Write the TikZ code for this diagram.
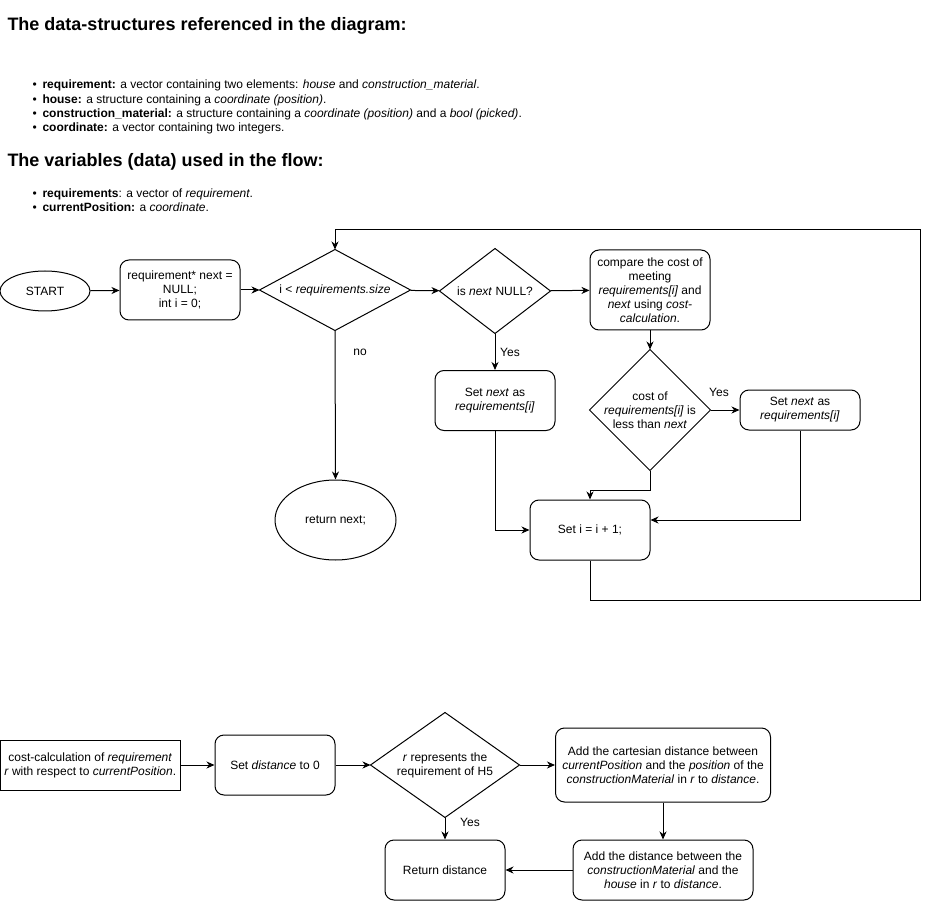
\documentclass[tikz,border=0pt]{standalone}
\usepackage{fontspec}
\setmainfont{Liberation Sans}
\usetikzlibrary{shapes.geometric,arrows.meta}

\begin{document}
\begin{tikzpicture}[x=1pt,y=-1pt,
  every node/.style={font=\fontsize{12}{14}\selectfont, inner sep=0pt},
  line width=1pt, line join=miter,
  heading/.style={anchor=base west, font=\fontsize{18}{21}\bfseries\selectfont},
  item/.style={anchor=base west, font=\fontsize{12}{14}\selectfont},
  proc/.style={draw, rounded corners=9pt, align=center, minimum width=#1},
  proc/.default=120pt,
  plainbox/.style={draw, align=center},
  term/.style={draw, ellipse, align=center},
  decision/.style={align=center},
  lbl/.style={},
  arr/.style={-{Stealth[length=8pt,width=7pt,inset=2.5pt]}}
]
\useasboundingbox (0,0) rectangle (929,901);

% ---------- legend ----------
\newcommand{\bul}{\makebox[10pt][l]{\textbullet}}
\node[heading] (h1) at (7,31) {The data-structures referenced in the diagram:};
\node[item] (i1) at (32,89)    {\bul\textbf{requirement:} a vector containing two elements: \textit{house} and \textit{construction\_material}.};
\node[item] (i2) at (32,103.3) {\bul\textbf{house:} a structure containing a \textit{coordinate (position)}.};
\node[item] (i3) at (32,117.6) {\bul\textbf{construction\_material:} a structure containing a \textit{coordinate (position)} and a \textit{bool (picked)}.};
\node[item] (i4) at (32,131.9) {\bul\textbf{coordinate:} a vector containing two integers.};
\node[heading] (h2) at (7,167) {The variables (data) used in the flow:};
\node[item] (v1) at (32,197.3) {\bul\textbf{requirements}: a vector of \textit{requirement}.};
\node[item] (v2) at (32,211.8) {\bul\textbf{currentPosition:} a \textit{coordinate}.};

% ---------- main flow ----------
\node[term, minimum width=90pt, minimum height=40pt] (start) at (45,291) {START};
\node[proc, minimum height=60pt] (init) at (180,290) {requirement* next =\\NULL;\\int i = 0;};
\node[decision, minimum width=150pt, minimum height=80pt] (cond) at (335,290) {i < \textit{requirements.size}};
\node[decision, minimum width=110pt, minimum height=84pt] (isnull) at (495,291) {is \textit{next} NULL?};
\node[proc, minimum height=80pt] (cmp) at (650,290) {compare the cost of\\meeting\\\textit{requirements[i]} and\\\textit{next} using \textit{cost-}\\\textit{calculation}.};
\node[decision, minimum width=120pt, minimum height=120pt] (less) at (650,410) {cost of\\\textit{requirements[i]} is\\less than \textit{next}};
\node[proc, minimum height=40pt] (setr) at (800,410) {Set \textit{next} as\\\textit{requirements[i]}};
\node[proc, minimum height=60pt] (setl) at (495,400.5) {Set \textit{next} as\\\textit{requirements[i]}};
\node[term, minimum width=121pt, minimum height=80pt] (ret) at (335.5,520) {return next;};
\node[proc, minimum height=60pt] (inc) at (590,530) {Set i = i + 1;};

\foreach \d in {cond,isnull,less}
  \draw (\d.north) -- (\d.east) -- (\d.south) -- (\d.west) -- cycle;

\draw[arr] (start) -- (init);
\draw[arr] (init) -- (cond);
\draw[arr] (cond) -- (isnull);
\draw[arr] (isnull) -- (cmp);
\draw[arr] (cmp) -- (less);
\draw[arr] (cond.south) -- (ret.north);
\draw[arr] (isnull.south) -- (setl.north);
\draw[arr] (less.east) -- (setr.west);
\draw[arr] (setl.south) |- (inc.west);
\draw[arr] (less.south) -- (650,490) -| (inc.north);
\draw[arr] (setr.south) |- ([yshift=10pt]inc.east);
\draw[arr] (inc.south) -- (590,600) -- (920,600) -- (920,230) -- (335,230) -- (cond.north);

\node[lbl] (lno) at (360,352) {no};
\node[lbl] (lyes1) at (510,352) {Yes};
\node[lbl] (lyes2) at (719,392) {Yes};

% ---------- cost-calculation flow ----------
\node[plainbox, minimum width=179.5pt, minimum height=50pt] (cc) at (90.25,765) {cost-calculation of \textit{requirement}\\\textit{r} with respect to \textit{currentPosition}.};
\node[proc, minimum height=60pt] (zero) at (275,765) {Set \textit{distance} to 0};
\node[decision, minimum width=148pt, minimum height=104pt] (h5) at (445,765) {\textit{r} represents the\\requirement of H5};
\node[proc=215pt, minimum height=74pt] (cart) at (663,765) {Add the cartesian distance between\\\textit{currentPosition} and the \textit{position} of the\\\textit{constructionMaterial} in \textit{r} to \textit{distance}.};
\node[proc=180pt, minimum height=60pt] (addh) at (663,870) {Add the distance between the\\\textit{constructionMaterial} and the\\\textit{house} in \textit{r} to \textit{distance}.};
\node[proc, minimum height=60pt] (rd) at (445,870) {Return distance};

\draw (h5.north) -- (h5.east) -- (h5.south) -- (h5.west) -- cycle;

\draw[arr] (cc) -- (zero);
\draw[arr] (zero) -- (h5);
\draw[arr] (h5) -- (cart);
\draw[arr] (h5.south) -- (rd.north);
\draw[arr] (cart.south) -- (addh.north);
\draw[arr] (addh) -- (rd);

\node[lbl] (lyes3) at (470,822) {Yes};
\end{tikzpicture}
\end{document}
